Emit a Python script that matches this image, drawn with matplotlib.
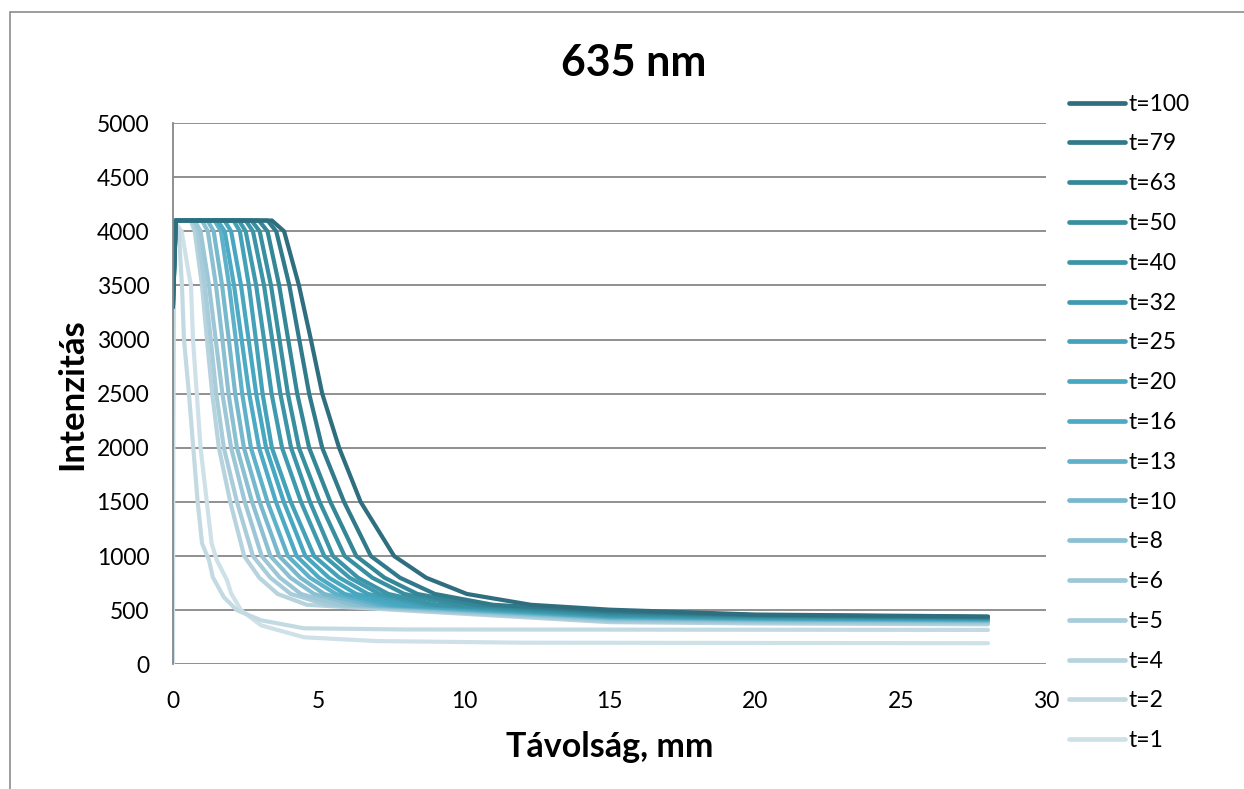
import matplotlib
matplotlib.use("Agg")
import matplotlib.pyplot as plt
from matplotlib.patches import Rectangle

plt.rcParams['font.family'] = ['Lato', 'DejaVu Sans']

# series labels (legend order, top to bottom)
labels = ['t=100', 't=79', 't=63', 't=50', 't=40', 't=32', 't=25', 't=20',
          't=16', 't=13', 't=10', 't=8', 't=6', 't=5', 't=4', 't=2', 't=1']

# distance (mm) and intensity for each series
x_t100 = [0, 0.1, 3.4, 3.82, 4.33, 4.74, 5.13, 5.71, 6.45, 7.6, 8.7, 10.1, 12.3, 15, 20, 28]
y_t100 = [3300, 4100, 4100, 4000, 3500, 3000, 2500, 2000, 1500, 1000, 800, 650, 550, 505, 460, 442]
x_t79 = [0, 0.1, 3.25, 3.55, 4.0, 4.34, 4.68, 5.13, 5.88, 6.8, 7.8, 9.0, 11.0, 15, 20, 28]
y_t79 = [3300, 4100, 4100, 4000, 3500, 3000, 2500, 2000, 1500, 1000, 800, 650, 550, 490, 455, 438]
x_t63 = [0, 0.1, 2.95, 3.25, 3.65, 3.96, 4.27, 4.68, 5.41, 6.3, 7.27, 8.4, 10.4, 15, 20, 28]
y_t63 = [3300, 4100, 4100, 4000, 3500, 3000, 2500, 2000, 1500, 1000, 800, 650, 550, 480, 450, 435]
x_t50 = [0, 0.1, 2.7, 2.98, 3.37, 3.66, 3.95, 4.33, 5.04, 5.9, 6.85, 7.95, 9.8, 15, 20, 28]
y_t50 = [3300, 4100, 4100, 4000, 3500, 3000, 2500, 2000, 1500, 1000, 800, 650, 550, 470, 445, 432]
x_t40 = [0, 0.1, 2.5, 2.75, 3.13, 3.41, 3.69, 4.06, 4.71, 5.5, 6.36, 7.4, 9.1, 15, 20, 28]
y_t40 = [3400, 4100, 4100, 4000, 3500, 3000, 2500, 2000, 1500, 1000, 800, 650, 550, 460, 440, 428]
x_t32 = [0, 0.1, 2.27, 2.5, 2.86, 3.13, 3.39, 3.75, 4.4, 5.2, 6.07, 7.1, 8.8, 15, 20, 28]
y_t32 = [3400, 4100, 4100, 4000, 3500, 3000, 2500, 2000, 1500, 1000, 800, 650, 550, 455, 435, 425]
x_t25 = [0, 0.1, 2.08, 2.3, 2.61, 2.85, 3.08, 3.4, 4.05, 4.85, 5.72, 6.7, 8.5, 15, 20, 28]
y_t25 = [3500, 4100, 4100, 4000, 3500, 3000, 2500, 2000, 1500, 1000, 800, 650, 550, 450, 432, 420]
x_t20 = [0, 0.1, 1.77, 2.0, 2.34, 2.6, 2.86, 3.2, 3.81, 4.55, 5.36, 6.3, 7.9, 15, 20, 28]
y_t20 = [3500, 4100, 4100, 4000, 3500, 3000, 2500, 2000, 1500, 1000, 800, 650, 550, 445, 428, 418]
x_t16 = [0, 0.1, 1.53, 1.78, 2.1, 2.36, 2.62, 2.96, 3.54, 4.25, 5.02, 5.9, 7.5, 15, 20, 28]
y_t16 = [3600, 4100, 4100, 4000, 3500, 3000, 2500, 2000, 1500, 1000, 800, 650, 550, 440, 424, 415]
x_t13 = [0, 0.1, 1.43, 1.65, 1.93, 2.16, 2.38, 2.68, 3.25, 3.95, 4.71, 5.6, 7.1, 15, 20, 28]
y_t13 = [3600, 4100, 4100, 4000, 3500, 3000, 2500, 2000, 1500, 1000, 800, 650, 550, 435, 420, 410]
x_t10 = [0, 0.1, 1.19, 1.4, 1.69, 1.92, 2.14, 2.44, 2.98, 3.65, 4.38, 5.2, 6.7, 15, 20, 28]
y_t10 = [3800, 4100, 4100, 4000, 3500, 3000, 2500, 2000, 1500, 1000, 800, 650, 550, 428, 415, 405]
x_t8 = [0, 0.1, 1.0, 1.2, 1.48, 1.7, 1.91, 2.2, 2.72, 3.35, 4.04, 4.85, 6.2, 15, 20, 28]
y_t8 = [3900, 4100, 4100, 4000, 3500, 3000, 2500, 2000, 1500, 1000, 800, 650, 550, 420, 408, 400]
x_t6 = [0, 0.1, 0.75, 0.95, 1.24, 1.47, 1.7, 2.0, 2.47, 3.05, 3.68, 4.4, 5.7, 15, 20, 28]
y_t6 = [4000, 4100, 4100, 4000, 3500, 3000, 2500, 2000, 1500, 1000, 800, 650, 550, 412, 400, 392]
x_t5 = [0, 0.1, 0.67, 0.85, 1.1, 1.3, 1.49, 1.75, 2.2, 2.75, 3.35, 4.05, 5.3, 15, 20, 28]
y_t5 = [4000, 4100, 4100, 4000, 3500, 3000, 2500, 2000, 1500, 1000, 800, 650, 550, 400, 390, 382]
x_t4 = [0, 0.1, 0.61, 0.75, 1.0, 1.17, 1.35, 1.58, 1.97, 2.45, 2.97, 3.6, 4.6, 15, 20, 28]
y_t4 = [4000, 4100, 4100, 4000, 3500, 3000, 2500, 2000, 1500, 1000, 800, 650, 550, 390, 378, 370]
x_t2 = [0, 0.05, 0.2, 0.31, 0.38, 0.55, 0.7, 0.85, 1.0, 1.24, 1.37, 1.75, 2.2, 3.03, 4.5, 8, 28]
y_t2 = [2000, 4100, 4000, 3500, 3000, 2500, 2000, 1500, 1118, 961, 806, 620, 500, 407, 333, 322, 318]
x_t1 = [0, 0.03, 0.3, 0.55, 0.62, 0.69, 0.95, 1.33, 1.51, 1.86, 2.0, 2.34, 3.03, 4.5, 7, 12, 28]
y_t1 = [0, 4100, 4000, 3600, 3500, 3000, 2000, 1118, 961, 776, 656, 500, 360, 250, 215, 200, 195]

xs = [x_t100, x_t79, x_t63, x_t50, x_t40, x_t32, x_t25, x_t20, x_t16,
      x_t13, x_t10, x_t8, x_t6, x_t5, x_t4, x_t2, x_t1]
ys = [y_t100, y_t79, y_t63, y_t50, y_t40, y_t32, y_t25, y_t20, y_t16,
      y_t13, y_t10, y_t8, y_t6, y_t5, y_t4, y_t2, y_t1]

colors = ['#2F6E7F', '#317A8B', '#348796', '#388F9F', '#3B94A7', '#3F9AAF',
          '#43A1B8', '#47A7C1', '#4CAAC4', '#5FB1C9', '#77B8CD', '#8BC0D2',
          '#9DC7D6', '#A8CCDA', '#B6D3DE', '#C3DAE3', '#CFE1E8']

fig = plt.figure(figsize=(12.44, 7.89), dpi=100)
ax = fig.add_axes([0.139, 0.158, 0.702, 0.686])

# outer chart border
fig.patches.append(Rectangle((0.008, -0.05), 1.1, 1.035, transform=fig.transFigure,
                             fill=False, edgecolor='#8c8c8c', linewidth=1.2))

lines = []
for i in range(len(labels) - 1, -1, -1):
    ln, = ax.plot(xs[i], ys[i], color=colors[i], lw=3.0, solid_capstyle='round',
                  solid_joinstyle='round')
    lines.append(ln)
lines = lines[::-1]

ax.set_xlim(0, 30)
ax.set_ylim(0, 5000)
ax.set_xticks(range(0, 31, 5))
ax.set_yticks(range(0, 5001, 500))
ax.yaxis.grid(True, color='#878787', lw=1.3)
ax.set_axisbelow(True)
for s in ['top', 'right', 'bottom']:
    ax.spines[s].set_visible(False)
ax.spines['left'].set_color('#878787')
ax.spines['left'].set_linewidth(1.3)
ax.tick_params(axis='both', length=0, labelsize=16.5)
ax.tick_params(axis='y', pad=17)
ax.tick_params(axis='x', pad=19)

# title is centred on the whole chart area, not the plot area
fig.text(0.509, 0.920, '635 nm', fontsize=31, fontweight='bold', ha='center', va='center')
ax.set_xlabel('Távolság, mm', fontsize=24.5, fontweight='bold', labelpad=14)
ax.set_ylabel('Intenzitás', fontsize=25, fontweight='bold', labelpad=6)

fig.legend(lines, labels, loc='upper left', bbox_to_anchor=(0.852, 0.893),
           frameon=False, fontsize=16.5, handlelength=2.45, handletextpad=0.15,
           labelspacing=0.82, borderaxespad=0)
for ln in fig.legends[0].get_lines():
    ln.set_linewidth(3.4)

fig.savefig('out.png', dpi=100)
